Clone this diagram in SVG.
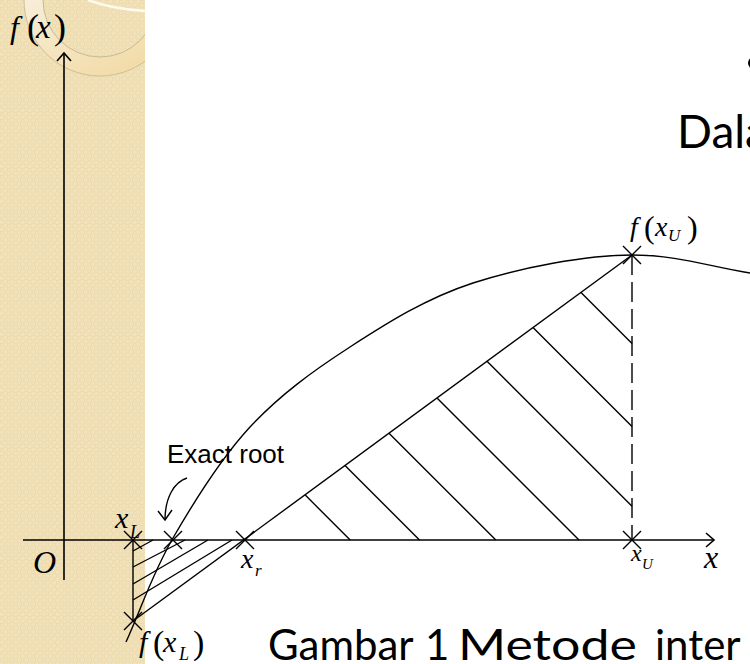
<svg xmlns="http://www.w3.org/2000/svg" width="750" height="664" viewBox="0 0 750 664">
<defs>
<pattern id="tex" x="0" y="0" width="7" height="7" patternUnits="userSpaceOnUse">
<rect width="7" height="7" fill="#f1e2bb"/>
<rect x="0" y="0" width="3.5" height="3.5" fill="#eddaab"/>
<rect x="3.5" y="3.5" width="3.5" height="3.5" fill="#eddaab"/>
<rect x="1" y="1" width="1.5" height="1.5" fill="#f3e6c4"/>
<rect x="4.5" y="4.5" width="1.5" height="1.5" fill="#f3e6c4"/>
</pattern>
<linearGradient id="ringg" x1="0" y1="0" x2="1" y2="1">
<stop offset="0" stop-color="#f8f0de"/>
<stop offset="1" stop-color="#f1d699"/>
</linearGradient>
<clipPath id="strip"><rect x="0" y="0" width="145" height="664"/></clipPath>
<style>
.ln{stroke:#000;stroke-width:1.4;fill:none}
.ax{stroke:#000;stroke-width:1.6;fill:none}
.mi{font-family:"Liberation Serif","Times New Roman",serif;font-style:italic;fill:#000}
.up{font-style:normal}
.lbl{font-family:"Liberation Sans",Arial,sans-serif;fill:#000}
.slide{font-family:Lato,"Open Sans",sans-serif;fill:#000}
</style>
</defs>
<rect width="750" height="664" fill="#fff"/>
<g id="background" clip-path="url(#strip)">
<rect x="0" y="0" width="145" height="664" fill="url(#tex)"/>
<path d="M24,0 A76,76 0 0 0 176,0 L157,0 A57,57 0 0 1 43,0 Z" fill="url(#ringg)" opacity="0.9"/>
<path d="M24,0 A76,76 0 0 0 176,0" stroke="#cdbf97" stroke-width="1" fill="none"/>
<path d="M43,0 A57,57 0 0 0 157,0" stroke="#c8ba92" stroke-width="1" fill="none"/>
<path d="M88,0 Q112,9 146,11" stroke="#fffaf0" stroke-width="2.5" fill="none"/>
</g>
<g id="slide-text">
<circle cx="754" cy="63" r="6" fill="#000"/>
<text class="slide" x="677" y="148" font-size="46">Dala</text>
<text class="slide" y="660" font-size="42"><tspan x="268">Gambar</tspan><tspan x="425">1</tspan><tspan x="458" textLength="179" lengthAdjust="spacingAndGlyphs">Metode</tspan><tspan x="655">inter</tspan></text>
</g>
<g id="axes">
<line class="ax" x1="64" y1="580" x2="64" y2="53"/>
<polyline class="ax" points="57,61 64,53 71,61"/>
<line class="ax" x1="23" y1="540" x2="714" y2="540"/>
<polyline class="ax" points="706,533 714,540 706,547"/>
<text class="mi" x="33" y="573" font-size="32">O</text>
<text class="mi" x="704" y="568" font-size="32">x</text>
<text id="label-fx" class="mi" y="38" font-size="32"><tspan x="10">f</tspan><tspan class="up" x="27" y="39" font-size="36">(</tspan><tspan x="36" y="38" font-size="33">x</tspan><tspan class="up" x="54" y="39" font-size="36">)</tspan></text>
</g>
<g id="curve">
<path class="ln" d="M126,642 C141.7,607.3 152.3,573.8 173,538 C193.7,502.2 220.5,458.8 250,427 C279.5,395.2 312.8,371 350,347 C387.2,323 426,298.3 473,283 C520,267.7 586,255 632,255 C678,255 710.7,267 750,273"/>
</g>
<g id="connectors">
<line id="secant" class="ln" x1="133" y1="621" x2="632" y2="255"/>
<line id="left-edge" class="ln" x1="133" y1="540" x2="133" y2="621"/>
<line id="dashed" class="ln" x1="632" y1="255" x2="632" y2="540" stroke-dasharray="20 7"/>
<g id="hatch-big">
<line class="ln" x1="305" y1="494.8" x2="350.2" y2="540"/>
<line class="ln" x1="345" y1="465.5" x2="419.5" y2="540"/>
<line class="ln" x1="389" y1="433.2" x2="495.8" y2="540"/>
<line class="ln" x1="437" y1="398" x2="579" y2="540"/>
<line class="ln" x1="487" y1="361.3" x2="632" y2="506.3"/>
<line class="ln" x1="533" y1="327.6" x2="632" y2="426.6"/>
<line class="ln" x1="581" y1="292.4" x2="632" y2="343.4"/>
</g>
<g id="hatch-small">
<line class="ln" x1="133" y1="551" x2="153" y2="540"/>
<line class="ln" x1="133" y1="567" x2="185" y2="540"/>
<line class="ln" x1="133" y1="584" x2="208" y2="540"/>
<line class="ln" x1="133" y1="600" x2="232" y2="540"/>
</g>
<g id="root-arrow">
<path class="ln" d="M187,478 C174,482 165,498 165,520"/>
<polyline class="ln" points="158,511 165,520 172,510"/>
</g>
</g>
<g id="node-xL">
<path class="ln" d="M124,531 L142,549 M142,531 L124,549"/>
<text class="mi" font-size="30"><tspan x="115" y="528">x</tspan><tspan x="130" y="538" font-size="18">L</tspan></text>
</g>
<g id="node-fxL">
<path class="ln" d="M124,612 L142,630 M142,612 L124,630"/>
<text class="mi" font-size="30"><tspan x="139" y="652">f</tspan><tspan class="up" x="153" y="654" font-size="34">(</tspan><tspan x="163" y="652">x</tspan><tspan x="179" y="660" font-size="18">L</tspan><tspan class="up" x="193" y="654" font-size="34">)</tspan></text>
</g>
<g id="node-root">
<path class="ln" d="M164,531 L182,549 M182,531 L164,549"/>
<text class="lbl" x="167" y="463" font-size="26">Exact root</text>
</g>
<g id="node-xr">
<path class="ln" d="M236,531 L254,549 M254,531 L236,549"/>
<text class="mi" font-size="28"><tspan x="241" y="568">x</tspan><tspan x="255" y="576" font-size="17">r</tspan></text>
</g>
<g id="node-xU">
<path class="ln" d="M623,531 L641,549 M641,531 L623,549"/>
<text class="mi" font-size="24"><tspan x="631" y="561">x</tspan><tspan x="642" y="569" font-size="15">U</tspan></text>
</g>
<g id="node-fxU">
<path class="ln" d="M623,246 L641,264 M641,246 L623,264"/>
<text class="mi" font-size="28"><tspan x="630" y="236">f</tspan><tspan class="up" x="644" y="238" font-size="32">(</tspan><tspan x="655" y="236">x</tspan><tspan x="668" y="241" font-size="17">U</tspan><tspan class="up" x="687" y="238" font-size="32">)</tspan></text>
</g>
</svg>
